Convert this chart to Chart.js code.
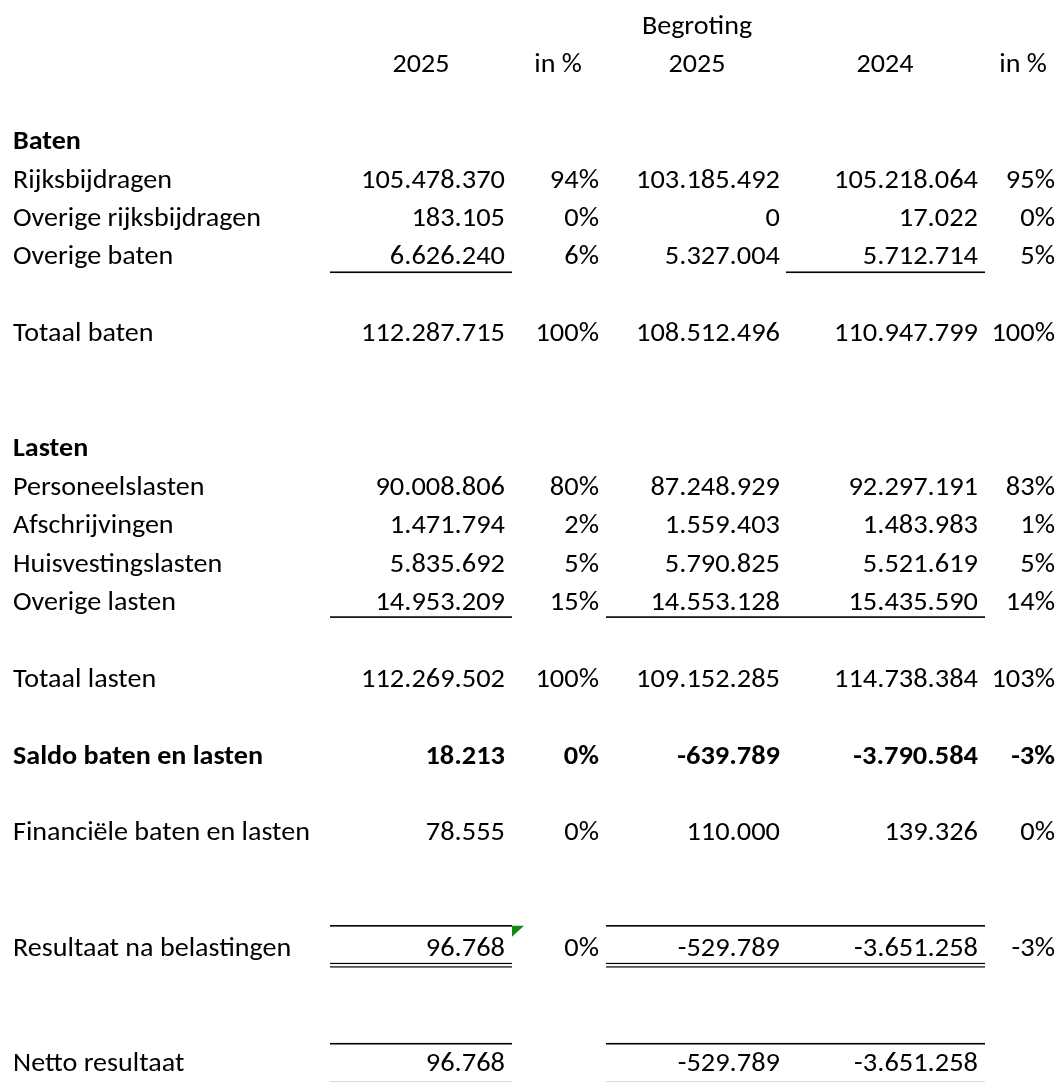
<!DOCTYPE html>
<html>
<head>
<meta charset="utf-8">
<script src="https://cdn.jsdelivr.net/npm/chart.js@4.4.1/dist/chart.umd.min.js"></script>
<style>
  html, body { margin: 0; padding: 0; background: #fff; }
  #wrap { width: 1059px; height: 1082px; }
</style>
</head>
<body>
<div id="wrap"><canvas id="tabel" width="1059" height="1082"></canvas></div>
<script>
// column headers
const headerTop = ['', '', 'Begroting', '', ''];
const headerCols = ['2025', 'in %', '2025', '2024', 'in %'];

// Baten
const batenLabels = ['Rijksbijdragen', 'Overige rijksbijdragen', 'Overige baten'];
const baten2025 = [105478370, 183105, 6626240];
const batenPct2025 = [94, 0, 6];
const batenBegroting2025 = [103185492, 0, 5327004];
const baten2024 = [105218064, 17022, 5712714];
const batenPct2024 = [95, 0, 5];

// Lasten
const lastenLabels = ['Personeelslasten', 'Afschrijvingen', 'Huisvestingslasten', 'Overige lasten'];
const lasten2025 = [90008806, 1471794, 5835692, 14953209];
const lastenPct2025 = [80, 2, 5, 15];
const lastenBegroting2025 = [87248929, 1559403, 5790825, 14553128];
const lasten2024 = [92297191, 1483983, 5521619, 15435590];
const lastenPct2024 = [83, 1, 5, 14];

// totals: 2025, in %, begroting 2025, 2024, in %
const totaalBaten = [112287715, 100, 108512496, 110947799, 100];
const totaalLasten = [112269502, 100, 109152285, 114738384, 103];
const saldo = [18213, 0, -639789, -3790584, -3];
const financieel = [78555, 0, 110000, 139326, 0];
const resultaat = [96768, 0, -529789, -3651258, -3];
const netto = [96768, null, -529789, -3651258, null];

// layout (pixels on the x scale, row units on the y scale)
const LABEL_X = 13;
const COL_EDGE = [330, 512, 606, 786, 985, 1061];
const COL_RIGHT = [505, 599, 780, 978, 1055];
const COL_CENTER = [421, 558, 697, 885, 1023];
const KIND = ['amt', 'pct', 'amt', 'amt', 'pct'];
const FONT = 'Carlito, Lato, "Open Sans", sans-serif';
const FONT_PX = 26;

function fmtAmount(n) {
  const s = Math.abs(n).toString().replace(/\B(?=(\d{3})+(?!\d))/g, '.');
  return (n < 0 ? '-' : '') + s;
}
function fmt(v, j) {
  return KIND[j] === 'pct' ? v + '%' : fmtAmount(v);
}

// rows of the statement
const rows = [];
rows.push({ r: 3, label: 'Baten', bold: true });
batenLabels.forEach((l, i) => rows.push({ r: 4 + i, label: l,
  values: [baten2025[i], batenPct2025[i], batenBegroting2025[i], baten2024[i], batenPct2024[i]] }));
rows.push({ r: 8, label: 'Totaal baten', values: totaalBaten });
rows.push({ r: 11, label: 'Lasten', bold: true });
lastenLabels.forEach((l, i) => rows.push({ r: 12 + i, label: l,
  values: [lasten2025[i], lastenPct2025[i], lastenBegroting2025[i], lasten2024[i], lastenPct2024[i]] }));
rows.push({ r: 17, label: 'Totaal lasten', values: totaalLasten });
rows.push({ r: 19, label: 'Saldo baten en lasten', bold: true, values: saldo });
rows.push({ r: 21, label: 'Financiële baten en lasten', values: financieel });
rows.push({ r: 24, label: 'Resultaat na belastingen', values: resultaat });
rows.push({ r: 27, label: 'Netto resultaat', values: netto });

// every text cell becomes a point
const cells = [];
headerTop.forEach((t, j) => { if (t) cells.push({ x: COL_CENTER[j], y: 0, text: t, align: 'center', kind: 'label' }); });
headerCols.forEach((t, j) => cells.push({ x: COL_CENTER[j], y: 1, text: t, align: 'center', kind: 'label' }));
rows.forEach(row => {
  cells.push({ x: LABEL_X, y: row.r, text: row.label, align: 'left', bold: row.bold, kind: 'label' });
  (row.values || []).forEach((v, j) => {
    if (v === null) return;
    cells.push({ x: COL_RIGHT[j], y: row.r, text: fmt(v, j), align: 'right', bold: row.bold, kind: 'num' });
  });
});

// borders (row units)
const span1 = [COL_EDGE[0], COL_EDGE[1]];
const span34 = [COL_EDGE[2], COL_EDGE[4]];
const span4 = [COL_EDGE[3], COL_EDGE[4]];
const borders = [
  { y: 6.4, span: span1, w: 1.6 }, { y: 6.4, span: span4, w: 1.6 },
  { y: 15.38, span: span1, w: 1.6 }, { y: 15.38, span: span34, w: 1.6 },
  { y: 23.42, span: span1, w: 1.6 }, { y: 23.42, span: span34, w: 1.6 },
  { y: 24.40, span: span1, w: 1.2 }, { y: 24.40, span: span34, w: 1.2 },
  { y: 24.49, span: span1, w: 1.2 }, { y: 24.49, span: span34, w: 1.2 },
  { y: 26.49, span: span1, w: 1.6 }, { y: 26.49, span: span34, w: 1.6 },
  { y: 27.48, span: span1, w: 1.2, color: '#d6d6d6' }, { y: 27.48, span: span34, w: 1.2, color: '#d6d6d6' }
];

const tablePlugin = {
  id: 'tablePlugin',
  beforeDatasetsDraw(chart) {
    const ctx = chart.ctx, xs = chart.scales.x, ys = chart.scales.y;
    ctx.save();
    borders.forEach(b => {
      const y = ys.getPixelForValue(b.y);
      const x0 = xs.getPixelForValue(b.span[0]), x1 = xs.getPixelForValue(b.span[1]);
      ctx.fillStyle = b.color || '#000';
      ctx.fillRect(x0, y - b.w / 2, x1 - x0, b.w);
    });
    // green error marker in the Resultaat row
    const tx = xs.getPixelForValue(COL_EDGE[1]), ty = ys.getPixelForValue(23.42);
    ctx.fillStyle = '#138a13';
    ctx.beginPath();
    ctx.moveTo(tx, ty);
    ctx.lineTo(tx + 12, ty);
    ctx.lineTo(tx, ty + 11);
    ctx.closePath();
    ctx.fill();
    ctx.restore();
  },
  afterDatasetsDraw(chart) {
    const ctx = chart.ctx;
    const meta = chart.getDatasetMeta(0);
    ctx.save();
    // fit the fallback font to the widths of the original
    ctx.font = FONT_PX + 'px ' + FONT;
    const sxNum = 144 / ctx.measureText('105.478.370').width;
    const sxLab = 248 / ctx.measureText('Overige rijksbijdragen').width;
    ctx.fillStyle = '#000';
    ctx.textBaseline = 'middle';
    meta.data.forEach((el, i) => {
      const c = cells[i];
      ctx.font = (c.bold ? 'bold ' : '') + FONT_PX + 'px ' + FONT;
      ctx.textAlign = c.align;
      ctx.save();
      ctx.translate(el.x, el.y + 1);
      ctx.scale(c.kind === 'num' ? sxNum : sxLab, 1);
      ctx.fillText(c.text, 0, 0);
      ctx.restore();
    });
    ctx.restore();
  }
};

new Chart(document.getElementById('tabel'), {
  type: 'scatter',
  data: {
    datasets: [{
      data: cells,
      pointRadius: 0,
      pointHoverRadius: 0
    }]
  },
  options: {
    responsive: false,
    maintainAspectRatio: false,
    devicePixelRatio: 1,
    animation: false,
    layout: { padding: 0 },
    plugins: { legend: { display: false }, tooltip: { enabled: false } },
    scales: {
      x: { type: 'linear', min: 0, max: 1059, display: false },
      y: { type: 'linear', min: -26.5 / 38.4, max: -26.5 / 38.4 + 1082 / 38.4, reverse: true, display: false }
    }
  },
  plugins: [tablePlugin]
});
</script>
</body>
</html>
